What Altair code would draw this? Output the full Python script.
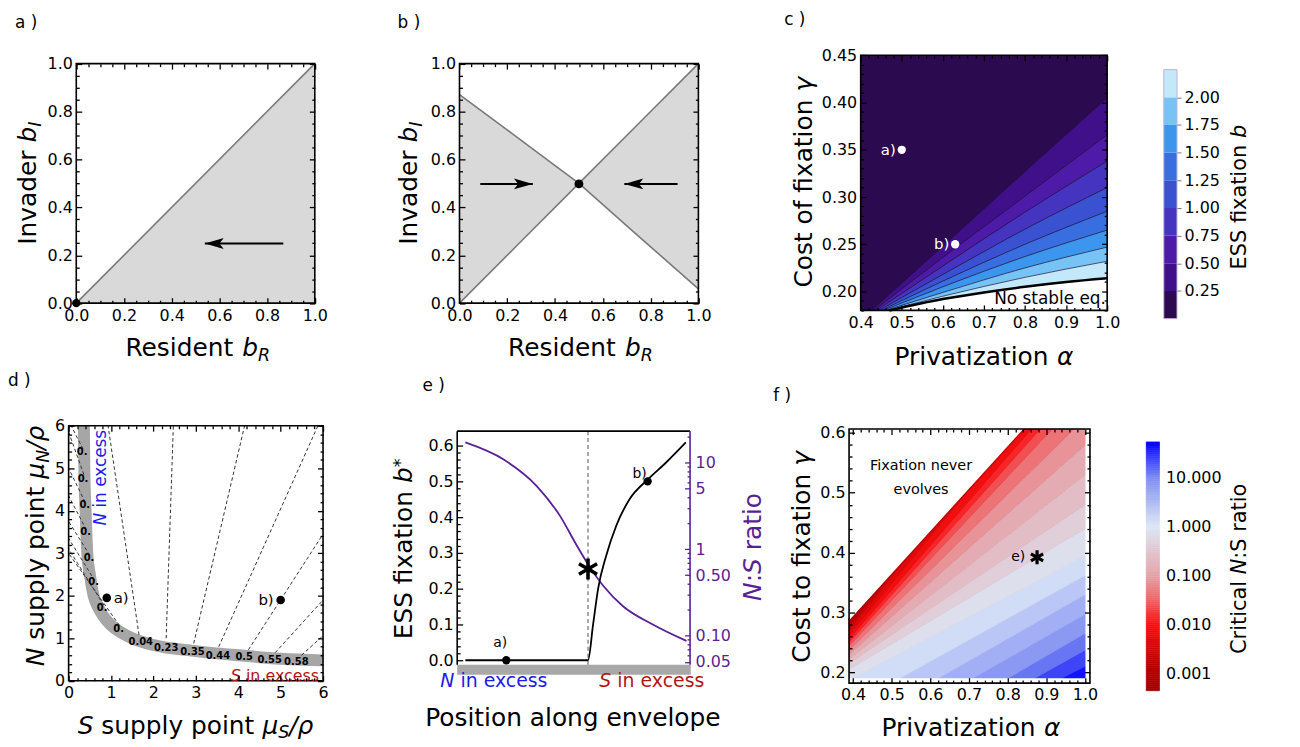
import altair as alt
import pandas as pd

W, H = 1292, 739
FONT = "DejaVu Sans"
PURPLE = "#5a1f95"
NBLUE = "#1c1ce6"
SRED = "#b31515"

# ---------------- a) ----------------
A_FILL_X = [0.0, 1.0]
A_FILL_LO = [0.0, 0.0]
A_FILL_HI = [0.0, 1.0]
A_DIAG_X = [0.0, 1.0]
A_DIAG_Y = [0.0, 1.0]
A_ARROW_TAIL = [0.868]
A_ARROW_TIP = [0.539]
A_ARROW_Y = [0.249]
A_ARROW_DIR = ["left"]
A_DOT_X = [0.0]
A_DOT_Y = [0.0]

# ---------------- b) ----------------
B_X = [0.0, 0.25, 0.5, 0.75, 1.0]
B_CURVE = [0.871, 0.686, 0.5, 0.279, 0.06]
B_DIAG = [0.0, 0.25, 0.5, 0.75, 1.0]
B_ARROW_TAIL = [0.087, 0.913]
B_ARROW_TIP = [0.307, 0.690]
B_ARROW_Y = [0.498, 0.498]
B_ARROW_DIR = ["right", "left"]
B_DOT_X = [0.5]
B_DOT_Y = [0.498]

# ---------------- c) ----------------
C_REGION_X = [0.4, 1.0]
C_REGION_Y = [0.18, 0.45]
C_LEVELS = [0.25, 0.5, 0.75, 1.0, 1.25, 1.5, 1.75, 2.0]
C_LINES_X = [
    [0.426, 0.60, 0.80, 1.00],
    [0.432, 0.60, 0.80, 1.00],
    [0.438, 0.60, 0.80, 1.00],
    [0.444, 0.60, 0.80, 1.00],
    [0.450, 0.60, 0.80, 1.00],
    [0.455, 0.60, 0.80, 1.00],
    [0.460, 0.60, 0.80, 1.00],
    [0.465, 0.60, 0.80, 1.00],
]
C_LINES_Y = [
    [0.18, 0.248, 0.327, 0.405],
    [0.18, 0.236, 0.301, 0.366],
    [0.18, 0.227, 0.284, 0.338],
    [0.18, 0.218, 0.266, 0.310],
    [0.18, 0.211, 0.250, 0.285],
    [0.18, 0.205, 0.237, 0.265],
    [0.18, 0.199, 0.225, 0.247],
    [0.18, 0.195, 0.215, 0.232],
]
C_BLACK_X = [0.47, 0.6, 0.7, 0.8, 0.9, 1.0]
C_BLACK_Y = [0.18, 0.192, 0.199, 0.205, 0.21, 0.214]
C_COLORS = ["#2c0a50", "#40108a", "#4d1ba8", "#4434c0", "#3a52d2", "#386ee0",
            "#3c96ee", "#78c3f5", "#c3e8fa"]
C_CB_LO = [0.0, 0.25, 0.5, 0.75, 1.0, 1.25, 1.5, 1.75, 2.0]
C_CB_TICKS = [0.25, 0.5, 0.75, 1.0, 1.25, 1.5, 1.75, 2.0]
C_PT_LABEL = ["a)", "b)"]
C_PT_X = [0.5, 0.63]
C_PT_Y = [0.35, 0.25]

# ---------------- d) ----------------
D_ENV_X = [0.36, 0.37, 0.40, 0.44, 0.50, 0.59, 0.70, 0.80, 1.00, 1.20, 1.50, 2.00, 3.00, 4.00, 5.00, 6.00]
D_ENV_Y = [6.00, 5.00, 4.00, 3.00, 2.50, 2.00, 1.72, 1.55, 1.31, 1.16, 1.00, 0.84, 0.70, 0.60, 0.52, 0.48]
D_RAY_X0 = [1.66, 2.30, 2.95, 3.54, 4.24, 4.87, 5.49, 0.34, 0.36, 0.39, 0.42, 0.50, 0.62, 0.83, 1.20]
D_RAY_Y0 = [1.08, 1.00, 0.88, 0.80, 0.73, 0.66, 0.60, 5.45, 4.85, 4.20, 3.55, 2.95, 2.35, 1.78, 1.30]
D_RAY_X1 = [0.93, 2.47, 4.15, 5.88, 6.00, 6.00, 6.00, 0.06, 0.00, 0.00, 0.00, 0.00, 0.00, 0.00, 0.00]
D_RAY_Y1 = [6.00, 6.00, 6.00, 6.00, 3.45, 1.90, 1.06, 6.00, 5.85, 5.00, 4.35, 3.75, 3.35, 3.10, 3.00]
D_LAB_T = ["0.", "0.", "0.", "0.", "0.", "0.", "0.", "0.", "0.04", "0.23", "0.35", "0.44", "0.5", "0.55", "0.58"]
D_LAB_X = [0.32, 0.34, 0.38, 0.40, 0.48, 0.59, 0.79, 1.18, 1.70, 2.30, 2.92, 3.52, 4.14, 4.74, 5.37]
D_LAB_Y = [5.38, 4.75, 4.13, 3.49, 2.88, 2.32, 1.72, 1.22, 0.92, 0.78, 0.67, 0.59, 0.55, 0.49, 0.45]
D_PT_X = [0.9, 5.0]
D_PT_Y = [1.95, 1.9]

# ---------------- e) ----------------
E_B_X = [0.035, 0.5625, 0.584, 0.606, 0.641, 0.684, 0.741, 0.819, 0.897, 0.983]
E_B_Y = [0.0, 0.0, 0.098, 0.2, 0.293, 0.376, 0.45, 0.505, 0.552, 0.609]
E_R_X = [0.035, 0.2, 0.342, 0.442, 0.513, 0.563, 0.627, 0.713, 0.841, 0.986]
E_R_Y = [17.2, 10.9, 5.38, 2.43, 1.12, 0.668, 0.38, 0.219, 0.135, 0.087]
E_STAR_X = [0.5625]
E_STAR_Y = [0.255]
E_PT_X = [0.211, 0.819]
E_PT_Y = [0.0, 0.5]
E_R_MAJ = [0.05, 0.1, 0.5, 1, 5, 10]
E_R_MIN = [0.06, 0.07, 0.08, 0.09, 0.2, 0.3, 0.4, 0.6, 0.7, 0.8, 0.9, 2, 3, 4, 6, 7, 8, 9, 20]

# ---------------- f) ----------------
F_REGION_X = [0.39, 1.0]
F_REGION_Y = [0.19, 0.607]
F_EDGE_X = [0.39, 0.841]
F_EDGE_Y = [0.287, 0.607]
F_ISO_X = [0.39, 1.0]
F_LEVELS = [1.75, 1.5, 1.25, 1.0, 0.75, 0.5, 0.25, 0.0, -0.25, -0.5, -0.75, -1.0, -1.25,
            -1.5, -1.75, -2.0, -2.25, -2.5, -2.75, -3.0, -3.25]
F_ISO_LEFT = [-0.02, 0.008, 0.017, 0.036, 0.072, 0.105, 0.143, 0.187, 0.205, 0.215, 0.222,
              0.230, 0.237, 0.244, 0.250, 0.256, 0.263, 0.270, 0.276, 0.282, 0.290]
F_ISO_RIGHT = [0.170, 0.210, 0.237, 0.265, 0.297, 0.330, 0.362, 0.395, 0.440, 0.480, 0.530,
               0.580, 0.625, 0.665, 0.690, 0.710, 0.740, 0.773, 0.780, 0.788, 0.800]
F_CDOM = [-3.36, -2.9, -2.0, -1.5, -1.0, 0.0, 1.0, 1.73]
F_CRANGE = ["#9e0000", "#b80000", "#fa1010", "#ee6466", "#e5a3a8", "#dde7f6", "#7f8ef2", "#0000ff"]
F_CB_TICKS = [-3, -2, -1, 0, 1]
F_STAR_X = [0.876]
F_STAR_Y = [0.392]

# ---------------- text metrics (DejaVu Sans widths / 1000 em) ----------------
DJ = {' ': 318, '!': 401, '(': 390, ')': 390, '*': 500, '.': 318, '/': 337, ':': 337,
      'A': 684, 'B': 686, 'C': 698, 'D': 770, 'E': 632, 'F': 575, 'G': 775, 'H': 752, 'I': 295,
      'J': 295, 'K': 656, 'L': 557, 'M': 863, 'N': 748, 'O': 787, 'P': 603, 'Q': 787, 'R': 695,
      'S': 635, 'T': 611, 'U': 732, 'V': 684, 'W': 989, 'X': 685, 'Y': 611, 'Z': 685,
      'a': 613, 'b': 635, 'c': 550, 'd': 635, 'e': 615, 'f': 352, 'g': 635, 'h': 634, 'i': 278,
      'j': 278, 'k': 579, 'l': 278, 'm': 974, 'n': 634, 'o': 612, 'p': 635, 'q': 635, 'r': 411,
      's': 521, 't': 392, 'u': 634, 'v': 592, 'w': 818, 'x': 592, 'y': 592, 'z': 525,
      'α': 659, 'γ': 592, 'μ': 636, 'ρ': 635}
for _d in "0123456789":
    DJ[_d] = 636


def tw(s, size):
    return sum(DJ.get(ch, 620) for ch in s) * size / 1000.0


TEXT_ROWS = []


def rich(segs, cx, cy, size, angle=0, color="black", anchor="center"):
    parts, total = [], 0.0
    for t, k in segs:
        fs = size * (0.7 if k in ("sub", "isub", "sup") else 1.0)
        parts.append((t, k, fs, total))
        total += tw(t, fs)
    start = {"center": -total / 2, "left": 0.0, "right": -total}[anchor]
    if angle == 0:
        ux, uy, vx, vy = 1, 0, 0, 1
    else:
        ux, uy, vx, vy = 0, -1, 1, 0
    for t, k, fs, off in parts:
        lead = len(t) - len(t.lstrip(" "))
        d = start + off + tw(" " * lead, fs)
        sh = 0.3 * size if k in ("sub", "isub") else (-0.12 * size if k == "sup" else 0.0)
        TEXT_ROWS.append(dict(t=t.strip(" "), x=cx + ux * d + vx * sh - 8, y=cy + uy * d + vy * sh - 8,
                              s=fs, a=angle, c=color,
                              st="italic" if k in ("i", "isub") else "normal"))


# ---------------- helpers ----------------
ONE = pd.DataFrame({"k": [0]})


def S(d0, d1, p0, p1, typ="linear"):
    if typ == "log":
        return alt.Scale(type="log", domain=[d0, d1], range=[p0 - 8, p1 - 8], nice=False)
    return alt.Scale(type="linear", domain=[d0, d1], range=[p0 - 8, p1 - 8], nice=False, zero=False)


def AX(orient, pos, values, fmt=None, expr=None, color="black", size=16, pad=4, ticks=False, tcolor="#777777"):
    if orient == "bottom":
        off = (pos - 8) - H
    elif orient == "left":
        off = -(pos - 8)
    else:
        off = (pos - 8) - W
    kw = dict(orient=orient, offset=off, values=values, domain=False, grid=False, title=None,
              labelFont=FONT, labelFontSize=size, labelColor=color, labelPadding=pad,
              labelFlush=False, labelOverlap=False, zindex=1)
    if ticks:
        kw.update(ticks=True, tickSize=4, tickColor=tcolor, tickWidth=1)
    else:
        kw.update(ticks=False, tickSize=0)
    if fmt is not None:
        kw["format"] = fmt
    if expr is not None:
        kw["labelExpr"] = expr
    return alt.Axis(**kw)


def TAX(orient, pos, values, ln, color):
    # inward-pointing tick marks on a frame edge
    if orient == "bottom":
        off = (pos - 8 - ln) - H
    elif orient == "top":
        off = -(pos - 8 + ln)
    elif orient == "left":
        off = -(pos - 8 + ln)
    else:
        off = (pos - 8 - ln) - W
    return alt.Axis(orient=orient, offset=off, values=values, labels=False, domain=False, grid=False,
                    title=None, ticks=True, tickSize=ln, tickColor=color, tickWidth=1.3, zindex=1)


def px_rect(x0, x1, y0, y1, **mk):
    return alt.Chart(ONE).mark_rect(**mk).encode(
        x=alt.value(x0 - 8), x2=alt.value(x1 - 8), y=alt.value(y0 - 8), y2=alt.value(y1 - 8))


def px_rule(x0, x1, y0, y1, **mk):
    return alt.Chart(ONE).mark_rule(**mk).encode(
        x=alt.value(x0 - 8), x2=alt.value(x1 - 8), y=alt.value(y0 - 8), y2=alt.value(y1 - 8))


def frame(x0, x1, y0, y1, color="black", sw=1.6):
    return px_rect(x0, x1, y0, y1, fillOpacity=0, stroke=color, strokeWidth=sw)


def xticks(scale, maj, mino, yb=None, yt=None, color="black", axis=None):
    out = []
    if axis is not None:
        out.append(alt.Chart(pd.DataFrame({"v": maj})).mark_point(opacity=0).encode(
            x=alt.X("v:Q", scale=scale, axis=axis), y=alt.value(0)))
    for vals, ln in ((maj, 5.5), (mino, 3.0)):
        for pos, orient in ((yb, "bottom"), (yt, "top")):
            if pos is None:
                continue
            out.append(alt.Chart(pd.DataFrame({"v": vals})).mark_point(opacity=0).encode(
                x=alt.X("v:Q", scale=scale, axis=TAX(orient, pos, vals, ln, color)), y=alt.value(0)))
    return out


def yticks(scale, maj, mino, xl=None, xr=None, color="black", axis=None):
    out = []
    if axis is not None:
        out.append(alt.Chart(pd.DataFrame({"v": maj})).mark_point(opacity=0).encode(
            y=alt.Y("v:Q", scale=scale, axis=axis), x=alt.value(0)))
    for vals, ln in ((maj, 5.5), (mino, 3.0)):
        for pos, orient in ((xl, "left"), (xr, "right")):
            if pos is None:
                continue
            out.append(alt.Chart(pd.DataFrame({"v": vals})).mark_point(opacity=0).encode(
                y=alt.Y("v:Q", scale=scale, axis=TAX(orient, pos, vals, ln, color)), x=alt.value(0)))
    return out


LEFT_HEAD = "M0,0L2,-0.58L1.55,0L2,0.58Z"
RIGHT_HEAD = "M0,0L-2,-0.58L-1.55,0L-2,0.58Z"
STAR = "M0,-1L0,1M-0.866,-0.5L0.866,0.5M-0.866,0.5L0.866,-0.5"


def arrows(xs, ys, tail, tip, yv, dirs):
    df = pd.DataFrame({"x0": tail, "x1": tip, "y": yv,
                       "shape": [LEFT_HEAD if d == "left" else RIGHT_HEAD for d in dirs]})
    shaft = alt.Chart(df).mark_rule(color="black", strokeWidth=2).encode(
        x=alt.X("x0:Q", scale=xs, axis=None), x2="x1:Q", y=alt.Y("y:Q", scale=ys, axis=None))
    head = alt.Chart(df).mark_point(filled=True, color="black", opacity=1, size=361, strokeWidth=0).encode(
        x=alt.X("x1:Q", scale=xs, axis=None), y=alt.Y("y:Q", scale=ys, axis=None),
        shape=alt.Shape("shape:N", scale=None))
    return [shaft, head]


def dots(xs, ys, xv, yv, color="black", size=64):
    return alt.Chart(pd.DataFrame({"x": xv, "y": yv})).mark_point(
        filled=True, color=color, opacity=1, size=size, strokeWidth=0).encode(
        x=alt.X("x:Q", scale=xs, axis=None), y=alt.Y("y:Q", scale=ys, axis=None))


def dtext(xs, ys, texts, xv, yv, size=15, color="black", align="center", weight="normal", dx=0, dy=0):
    return alt.Chart(pd.DataFrame({"t": texts, "x": xv, "y": yv})).mark_text(
        font=FONT, fontSize=size, color=color, align=align, baseline="middle",
        fontWeight=weight, dx=dx, dy=dy).encode(
        x=alt.X("x:Q", scale=xs, axis=None), y=alt.Y("y:Q", scale=ys, axis=None), text="t:N")


def star(xs, ys, xv, yv, size, sw):
    return alt.Chart(pd.DataFrame({"x": xv, "y": yv})).mark_point(
        shape=STAR, filled=False, color="black", opacity=1, size=size, strokeWidth=sw).encode(
        x=alt.X("x:Q", scale=xs, axis=None), y=alt.Y("y:Q", scale=ys, axis=None))


# ---------------- scales (pixel positions of each panel) ----------------
A_XS = S(0, 1, 76.7, 316.7); A_YS = S(0, 1, 302.7, 61.7)
B_XS = S(0, 1, 462.3, 702.7); B_YS = S(0, 1, 302.7, 61.7)
C_XS = S(0.4, 1.0, 866, 1114); C_YS = S(0.18, 0.45, 310, 53.3)
CB_YS = S(0, 2.25, 318.3, 67.7)
D_XS = S(0, 6, 69, 325); D_YS = S(0, 6, 682.7, 426)
E_XS = S(0, 1, 460, 694); E_YL = S(0, 0.6, 662, 446); E_YR = S(0.05, 20, 663.5, 437.1, "log")
F_XS = S(0.4, 1.0, 858.3, 1091.7); F_YS = S(0.2, 0.6, 674, 433.3)
FB_YS = S(-3.36, 1.73, 692.7, 442.3)
F_CSCALE = alt.Scale(type="linear", domain=F_CDOM, range=F_CRANGE, interpolate="rgb")

T01_MAJ = [0.0, 0.2, 0.4, 0.6, 0.8, 1.0]
T01_MIN = [round(i * 0.05, 2) for i in range(21) if i % 4]
CX_MAJ = [0.4, 0.5, 0.6, 0.7, 0.8, 0.9, 1.0]
CX_MIN = [round(0.4 + 0.02 * i, 2) for i in range(31) if i % 5]
CY_MAJ = [0.2, 0.25, 0.3, 0.35, 0.4, 0.45]
CY_MIN = [round(0.18 + 0.01 * i, 2) for i in range(28) if (18 + i) % 5]
D_MAJ = [0, 1, 2, 3, 4, 5, 6]
D_MIN = [round(0.2 * i, 1) for i in range(31) if i % 5]
EL_MAJ = [0.0, 0.1, 0.2, 0.3, 0.4, 0.5, 0.6]
EL_MIN = [round(0.02 * i, 2) for i in range(31) if i % 5]
FX_MAJ = [0.4, 0.5, 0.6, 0.7, 0.8, 0.9, 1.0]
FX_MIN = [round(0.4 + 0.02 * i, 2) for i in range(31) if i % 5]
FY_MAJ = [0.2, 0.3, 0.4, 0.5, 0.6]
FY_MIN = [round(0.2 + 0.02 * i, 2) for i in range(21) if i % 5]

layers = []

# ================= f) density (drawn first, masked) =================
layers.append(alt.Chart(pd.DataFrame({"x0": [F_REGION_X[0]], "x1": [F_REGION_X[1]],
                                      "y0": [F_REGION_Y[0]], "y1": [F_REGION_Y[1]],
                                      "v": [F_CDOM[-1]]})).mark_rect().encode(
    x=alt.X("x0:Q", scale=F_XS, axis=None), x2="x1:Q",
    y=alt.Y("y0:Q", scale=F_YS, axis=None), y2="y1:Q",
    color=alt.Color("v:Q", scale=F_CSCALE, legend=None)))
band_rows = []
for i in range(len(F_LEVELS) - 1):
    mid = (F_LEVELS[i] + F_LEVELS[i + 1]) / 2
    for j, xv in enumerate(F_ISO_X):
        src = F_ISO_LEFT if j == 0 else F_ISO_RIGHT
        a, b = src[i], src[i + 1]
        band_rows.append({"band": i, "x": xv, "lo": min(a, b), "hi": max(a, b), "mid": mid})
layers.append(alt.Chart(pd.DataFrame(band_rows)).mark_area(strokeWidth=1).encode(
    x=alt.X("x:Q", scale=F_XS, axis=None),
    y=alt.Y("lo:Q", scale=F_YS, axis=None), y2="hi:Q",
    color=alt.Color("mid:Q", scale=F_CSCALE, legend=None),
    stroke=alt.Stroke("mid:Q", scale=F_CSCALE, legend=None),
    detail="band:N"))
layers.append(alt.Chart(pd.DataFrame({"x": F_EDGE_X, "y": F_EDGE_Y})).mark_line(
    color="#a80000", strokeWidth=3, opacity=0.55).encode(
    x=alt.X("x:Q", scale=F_XS, axis=None), y=alt.Y("y:Q", scale=F_YS, axis=None)))
layers.append(alt.Chart(pd.DataFrame({"x": F_EDGE_X, "y": F_EDGE_Y, "top": [F_REGION_Y[1]] * 2}))
              .mark_area(color="white").encode(
    x=alt.X("x:Q", scale=F_XS, axis=None), y=alt.Y("y:Q", scale=F_YS, axis=None), y2="top:Q"))
mask = pd.DataFrame({"x0": [F_REGION_X[0] - 0.004] * 2, "x1": [F_REGION_X[1] + 0.004] * 2,
                     "y0": [F_REGION_Y[1], F_REGION_Y[0] - 0.25],
                     "y1": [F_REGION_Y[1] + 0.22, F_REGION_Y[0]]})
layers.append(alt.Chart(mask).mark_rect(color="white").encode(
    x=alt.X("x0:Q", scale=F_XS, axis=None), x2="x1:Q",
    y=alt.Y("y0:Q", scale=F_YS, axis=None), y2="y1:Q"))

# ================= a) =================
layers.append(alt.Chart(pd.DataFrame({"x": A_FILL_X, "lo": A_FILL_LO, "hi": A_FILL_HI})).mark_area(color="#d9d9d9").encode(
    x=alt.X("x:Q", scale=A_XS, axis=None), y=alt.Y("lo:Q", scale=A_YS, axis=None), y2="hi:Q"))
layers.append(alt.Chart(pd.DataFrame({"x": A_DIAG_X, "y": A_DIAG_Y})).mark_line(color="#7a7a7a", strokeWidth=1.6).encode(
    x=alt.X("x:Q", scale=A_XS, axis=None), y=alt.Y("y:Q", scale=A_YS, axis=None)))
layers += arrows(A_XS, A_YS, A_ARROW_TAIL, A_ARROW_TIP, A_ARROW_Y, A_ARROW_DIR)
layers.append(frame(76.7, 316.7, 61.7, 302.7))
layers += xticks(A_XS, T01_MAJ, T01_MIN, yb=302.7, yt=61.7, axis=AX("bottom", 302.7, T01_MAJ, fmt=".1f"))
layers += yticks(A_YS, T01_MAJ, T01_MIN, xl=76.7, xr=316.7, axis=AX("left", 76.7, T01_MAJ, fmt=".1f"))
layers.append(dots(A_XS, A_YS, A_DOT_X, A_DOT_Y, size=70))

# ================= b) =================
b_lo = [min(c, d) for c, d in zip(B_CURVE, B_DIAG)]
b_hi = [max(c, d) for c, d in zip(B_CURVE, B_DIAG)]
layers.append(alt.Chart(pd.DataFrame({"x": B_X, "lo": b_lo, "hi": b_hi})).mark_area(color="#d9d9d9").encode(
    x=alt.X("x:Q", scale=B_XS, axis=None), y=alt.Y("lo:Q", scale=B_YS, axis=None), y2="hi:Q"))
b_lines = pd.DataFrame({"x": B_X + B_X, "y": B_CURVE + B_DIAG, "id": ["c"] * 5 + ["d"] * 5})
layers.append(alt.Chart(b_lines).mark_line(color="#7a7a7a", strokeWidth=1.6).encode(
    x=alt.X("x:Q", scale=B_XS, axis=None), y=alt.Y("y:Q", scale=B_YS, axis=None), detail="id:N"))
layers += arrows(B_XS, B_YS, B_ARROW_TAIL, B_ARROW_TIP, B_ARROW_Y, B_ARROW_DIR)
layers.append(frame(462.3, 702.7, 61.7, 302.7))
layers += xticks(B_XS, T01_MAJ, T01_MIN, yb=302.7, yt=61.7, axis=AX("bottom", 302.7, T01_MAJ, fmt=".1f"))
layers += yticks(B_YS, T01_MAJ, T01_MIN, xl=462.3, xr=702.7, axis=AX("left", 462.3, T01_MAJ, fmt=".1f"))
layers.append(dots(B_XS, B_YS, B_DOT_X, B_DOT_Y, size=80))

# ================= c) =================
layers.append(alt.Chart(pd.DataFrame({"x0": [C_REGION_X[0]], "x1": [C_REGION_X[1]],
                                      "y0": [C_REGION_Y[0]], "y1": [C_REGION_Y[1]]}))
              .mark_rect(color=C_COLORS[0]).encode(
    x=alt.X("x0:Q", scale=C_XS, axis=None), x2="x1:Q",
    y=alt.Y("y0:Q", scale=C_YS, axis=None), y2="y1:Q"))
line_rows = []
for k, (lx, ly) in enumerate(zip(C_LINES_X, C_LINES_Y)):
    dfk = pd.DataFrame({"x": lx, "y": ly, "base": [C_REGION_Y[0]] * len(lx)})
    layers.append(alt.Chart(dfk).mark_area(color=C_COLORS[k + 1], interpolate="monotone").encode(
        x=alt.X("x:Q", scale=C_XS, axis=None), y=alt.Y("y:Q", scale=C_YS, axis=None), y2="base:Q"))
    for xv, yv in zip(lx, ly):
        line_rows.append({"id": k, "x": xv, "y": yv})
layers.append(alt.Chart(pd.DataFrame({"x": C_BLACK_X, "y": C_BLACK_Y, "base": [C_REGION_Y[0]] * len(C_BLACK_X)}))
              .mark_area(color="white", interpolate="monotone").encode(
    x=alt.X("x:Q", scale=C_XS, axis=None), y=alt.Y("y:Q", scale=C_YS, axis=None), y2="base:Q"))
layers.append(alt.Chart(pd.DataFrame(line_rows)).mark_line(color="#1d1030", strokeWidth=0.7, interpolate="monotone").encode(
    x=alt.X("x:Q", scale=C_XS, axis=None), y=alt.Y("y:Q", scale=C_YS, axis=None), detail="id:N"))
layers.append(alt.Chart(pd.DataFrame({"x": C_BLACK_X, "y": C_BLACK_Y})).mark_line(color="black", strokeWidth=2.6, interpolate="monotone").encode(
    x=alt.X("x:Q", scale=C_XS, axis=None), y=alt.Y("y:Q", scale=C_YS, axis=None)))
layers.append(dots(C_XS, C_YS, C_PT_X, C_PT_Y, color="white", size=70))
layers.append(dtext(C_XS, C_YS, C_PT_LABEL, C_PT_X, C_PT_Y, size=15, color="white", align="right", dx=-6))
layers.append(dtext(C_XS, C_YS, ["No stable eq."], [0.997], [0.1925], size=17, align="right"))
layers.append(frame(866, 1114, 53.3, 310))
layers += xticks(C_XS, CX_MAJ, CX_MIN, yb=310, yt=53.3, axis=AX("bottom", 310, CX_MAJ, fmt=".1f"))
layers += yticks(C_YS, CY_MAJ, CY_MIN, xl=866, xr=1114, axis=AX("left", 866, CY_MAJ, fmt=".2f"))
# colorbar c
cb = pd.DataFrame({"lo": C_CB_LO, "hi": [v + 0.25 for v in C_CB_LO], "c": C_COLORS})
layers.append(alt.Chart(cb).mark_rect().encode(
    x=alt.value(1171 - 8), x2=alt.value(1184.3 - 8),
    y=alt.Y("lo:Q", scale=CB_YS, axis=AX("right", 1184.3, C_CB_TICKS, fmt=".2f", pad=3, ticks=True)),
    y2="hi:Q", color=alt.Color("c:N", scale=None)))
layers.append(frame(1171, 1184.3, 67.7, 318.3, color="#bdb3d6", sw=1))

# ================= d) =================
layers.append(alt.Chart(pd.DataFrame({"x": D_ENV_X, "y": D_ENV_Y})).mark_line(
    color="#a6a6a6", strokeWidth=12, strokeCap="butt", interpolate="monotone").encode(
    x=alt.X("x:Q", scale=D_XS, axis=None), y=alt.Y("y:Q", scale=D_YS, axis=None)))
layers.append(alt.Chart(pd.DataFrame({"x0": D_RAY_X0, "y0": D_RAY_Y0, "x1": D_RAY_X1, "y1": D_RAY_Y1}))
              .mark_rule(color="#333333", strokeWidth=1, strokeDash=[3.5, 2.5]).encode(
    x=alt.X("x0:Q", scale=D_XS, axis=None), y=alt.Y("y0:Q", scale=D_YS, axis=None),
    x2="x1:Q", y2="y1:Q"))
layers.append(dtext(D_XS, D_YS, D_LAB_T, D_LAB_X, D_LAB_Y, size=10, weight="bold"))
layers.append(dots(D_XS, D_YS, D_PT_X, D_PT_Y, size=75))
layers.append(dtext(D_XS, D_YS, ["a)"], [D_PT_X[0]], [D_PT_Y[0]], size=15, align="left", dx=7))
layers.append(dtext(D_XS, D_YS, ["b)"], [D_PT_X[1]], [D_PT_Y[1]], size=15, align="right", dx=-7))
layers.append(frame(69, 325, 426, 682.7))
layers += xticks(D_XS, D_MAJ, D_MIN, yb=682.7, yt=426, axis=AX("bottom", 682.7, D_MAJ, fmt="d"))
layers += yticks(D_YS, D_MAJ, D_MIN, xl=69, xr=325, axis=AX("left", 69, D_MAJ, fmt="d"))

# ================= e) =================
layers.append(px_rect(460, 695, 666.5, 676.5, color="#a8a8a8"))
layers.append(alt.Chart(pd.DataFrame({"x": E_STAR_X})).mark_rule(color="#7a7a7a", strokeWidth=1.3, strokeDash=[4, 3]).encode(
    x=alt.X("x:Q", scale=E_XS, axis=None), y=alt.value(431.5 - 8), y2=alt.value(666.5 - 8)))
layers.append(alt.Chart(pd.DataFrame({"x": E_R_X, "y": E_R_Y})).mark_line(color=PURPLE, strokeWidth=1.8, interpolate="monotone").encode(
    x=alt.X("x:Q", scale=E_XS, axis=None), y=alt.Y("y:Q", scale=E_YR, axis=None)))
layers.append(alt.Chart(pd.DataFrame({"x": E_B_X, "y": E_B_Y})).mark_line(color="black", strokeWidth=1.8, interpolate="monotone").encode(
    x=alt.X("x:Q", scale=E_XS, axis=None), y=alt.Y("y:Q", scale=E_YL, axis=None)))
layers.append(dots(E_XS, E_YL, E_PT_X, E_PT_Y, size=70))
layers.append(dtext(E_XS, E_YL, ["a)"], [E_PT_X[0]], [E_PT_Y[0]], size=14, dx=-6, dy=-17))
layers.append(dtext(E_XS, E_YL, ["b)"], [E_PT_X[1]], [E_PT_Y[1]], size=14, align="right", dx=-1, dy=-7))
layers.append(star(E_XS, E_YL, E_STAR_X, E_STAR_Y, 441, 3.6))
layers.append(px_rule(460, 694.3, 431.5, 431.5, color="black", strokeWidth=1.6))
layers.append(px_rule(460, 460, 431.5, 666.5, color="black", strokeWidth=1.6))
layers.append(px_rule(694.3, 694.3, 431.5, 666.5, color=PURPLE, strokeWidth=1.6))
layers += yticks(E_YL, EL_MAJ, EL_MIN, xl=460, axis=AX("left", 460, EL_MAJ, fmt=".1f"))
layers += yticks(E_YR, E_R_MAJ, E_R_MIN, xr=694.3, color=PURPLE,
                 axis=AX("right", 694.3, E_R_MAJ, color=PURPLE, pad=5,
                         expr="datum.value >= 1 ? format(datum.value, 'd') : format(datum.value, '.2f')"))

# ================= f) overlays =================
layers.append(dtext(F_XS, F_YS, ["Fixation never", "evolves"], [0.576, 0.576], [0.5445, 0.5046], size=14.5))
layers.append(dtext(F_XS, F_YS, ["e)"], [F_STAR_X[0]], [F_STAR_Y[0]], size=14, align="right", dx=-12))
layers.append(star(F_XS, F_YS, F_STAR_X, F_STAR_Y, 200, 3.2))
layers.append(frame(854.3, 1096.7, 429.3, 685))
layers += xticks(F_XS, FX_MAJ, FX_MIN, yb=685, yt=429.3, axis=AX("bottom", 685, FX_MAJ, fmt=".1f"))
layers += yticks(F_YS, FY_MAJ, FY_MIN, xl=854.3, xr=1096.7, axis=AX("left", 854.3, FY_MAJ, fmt=".1f"))
n_cb = 120
step = (F_CDOM[-1] - F_CDOM[0]) / n_cb
fcb = pd.DataFrame({"lo": [F_CDOM[0] + i * step for i in range(n_cb)]})
fcb["hi"] = fcb["lo"] + step
fcb["mid"] = fcb["lo"] + step / 2
layers.append(alt.Chart(fcb).mark_rect(strokeWidth=0.6).encode(
    x=alt.value(1153.3 - 8), x2=alt.value(1166.7 - 8),
    y=alt.Y("lo:Q", scale=FB_YS, axis=AX("right", 1166.7, F_CB_TICKS, pad=6,
                                         expr="format(pow(10, datum.value), '.3f')")),
    y2="hi:Q",
    color=alt.Color("mid:Q", scale=F_CSCALE, legend=None),
    stroke=alt.Stroke("mid:Q", scale=F_CSCALE, legend=None)))

# ================= titles & labels =================
TS = 25
rich([("Resident ", "n"), ("b", "i"), ("R", "isub")], 199, 348, TS)
rich([("Invader ", "n"), ("b", "i"), ("I", "isub")], 28.3, 182, TS, angle=270)
rich([("Resident ", "n"), ("b", "i"), ("R", "isub")], 584, 348, TS)
rich([("Invader ", "n"), ("b", "i"), ("I", "isub")], 411.7, 182, TS, angle=270)
rich([("Privatization ", "n"), ("α", "i")], 990, 357, TS)
rich([("Cost of fixation ", "n"), ("γ", "i")], 809, 181, TS, angle=270)
rich([("ESS fixation ", "n"), ("b", "i")], 1248, 196, 21, angle=270)
rich([("S", "i"), (" supply point ", "n"), ("μ", "i"), ("S", "isub"), ("/ρ", "i")], 196.7, 728, TS)
rich([("N", "i"), (" supply point ", "n"), ("μ", "i"), ("N", "isub"), ("/ρ", "i")], 36.7, 547, TS, angle=270)
rich([("N", "i"), (" in excess", "n")], 101.7, 478, 17, angle=270, color=NBLUE)
rich([("S", "i"), (" in excess", "n")], 321.7, 677.5, 16, color=SRED, anchor="right")
rich([("Position along envelope", "n")], 577, 720, TS)
rich([("ESS fixation ", "n"), ("b", "i"), ("*", "sup")], 406.7, 550, TS, angle=270)
rich([("N", "i"), (":", "n"), ("S", "i"), (" ratio", "n")], 758, 548, TS, angle=270, color=PURPLE)
rich([("N", "i"), (" in excess", "n")], 443, 683, 19, color=NBLUE, anchor="left")
rich([("S", "i"), (" in excess", "n")], 603, 683, 19, color=SRED, anchor="left")
rich([("Privatization ", "n"), ("α", "i")], 977, 730, TS)
rich([("Cost to fixation ", "n"), ("γ", "i")], 807, 558, TS, angle=270)
rich([("Critical ", "n"), ("N", "i"), (":S ratio", "n")], 1248, 570, 21, angle=270)
for lab, lx, ly in [("a )", 15, 21), ("b )", 400, 21), ("c )", 789, 18),
                    ("d )", 8, 381), ("e )", 425, 386), ("f )", 778, 396)]:
    rich([(lab, "n")], lx, ly, 17, anchor="left")

tdf = pd.DataFrame(TEXT_ROWS)
for st in ["normal", "italic"]:
    sub = tdf[tdf["st"] == st]
    layers.append(alt.Chart(sub).mark_text(align="left", baseline="middle", font=FONT, fontStyle=st).encode(
        x=alt.X("x:Q", scale=None, axis=None), y=alt.Y("y:Q", scale=None, axis=None),
        text="t:N", size=alt.Size("s:Q", scale=None), color=alt.Color("c:N", scale=None),
        angle=alt.Angle("a:Q", scale=None)))

chart = alt.layer(*layers).properties(
    width=W, height=H, padding=0, background="white",
    autosize=alt.AutoSizeParams(type="none"),
).resolve_scale(
    x="independent", y="independent", color="independent", stroke="independent",
    shape="independent", size="independent", angle="independent",
).configure_view(stroke=None)

chart.save("out.html", embed_options={"renderer": "svg", "actions": False})
